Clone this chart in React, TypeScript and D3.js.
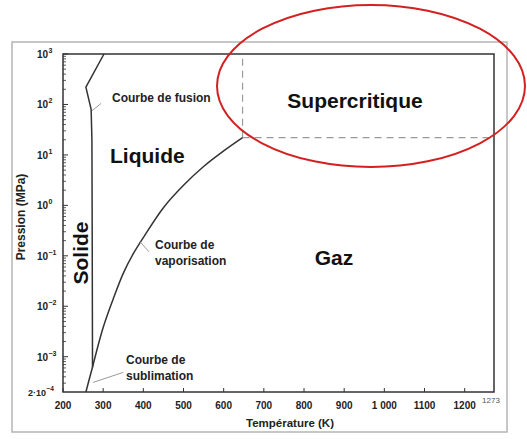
import * as d3 from "d3";

// courbes du diagramme de phase de l'eau (T en K, P en MPa)
const fusion: [number, number][] = [
  [273.5, 6.1e-4],
  [272.5, 1],
  [272, 20],
  [270, 80],
  [257, 220],
  [302, 1000],
];
const sublimation: [number, number][] = [
  [257, 2e-4],
  [265, 3.5e-4],
  [273.2, 6.1e-4],
];
const vaporisation: [number, number][] = [
  [273.2, 6.1e-4],
  [300, 3.8e-3],
  [325, 0.014],
  [350, 0.045],
  [375, 0.11],
  [400, 0.23],
  [450, 0.9],
  [500, 2.5],
  [550, 5.9],
  [600, 12],
  [647, 22],
];
const critique: [number, number] = [647, 22];

const xTicks = [200, 300, 400, 500, 600, 700, 800, 900, 1000, 1100, 1200];
const xTickLabels = ["200", "300", "400", "500", "600", "700", "800", "900", "1 000", "1100", "1200"];
const yTicks = [1e-3, 1e-2, 1e-1, 1, 10, 100, 1000];
const yExponents = ["−3", "−2", "−1", "0", "1", "2", "3"];

const W = 527;
const H = 439;
const left = 63, right = 494, top = 54, bottom = 392;
const font = "'Liberation Sans', Arial, sans-serif";

export default function App() {
  const x = d3.scaleLinear().domain([200, 1273]).range([left, right]);
  const y = d3.scaleLog().domain([2e-4, 1000]).range([bottom, top]);

  const line = d3
    .line<[number, number]>()
    .x((d) => x(d[0]))
    .y((d) => y(d[1]));
  const smooth = d3
    .line<[number, number]>()
    .x((d) => x(d[0]))
    .y((d) => y(d[1]))
    .curve(d3.curveCatmullRom.alpha(0.5));

  // graduations mineures log
  const minors: number[] = [];
  for (let e = -4; e < 3; e++) {
    for (let k = 2; k <= 9; k++) {
      const v = k * Math.pow(10, e);
      if (v > 2e-4 && v < 1000) minors.push(v);
    }
  }

  const lineColor = "#333";
  const leader = "#9a9a9a";

  return (
    <svg
      width={W}
      height={H}
      style={{ position: "absolute", left: 0, top: 0, background: "#fff" }}
      fontFamily={font}
    >
      {/* cadre extérieur */}
      <rect x={12} y={42} width={495} height={390} fill="none" stroke="#b5b5b5" strokeWidth={1.5} />

      {/* pointillés du point critique */}
      <line x1={x(critique[0])} x2={x(critique[0])} y1={y(critique[1])} y2={top} stroke="#9a9a9a" strokeWidth={1.2} strokeDasharray="7,5" />
      <line x1={x(critique[0])} x2={right} y1={y(critique[1])} y2={y(critique[1])} stroke="#9a9a9a" strokeWidth={1.2} strokeDasharray="7,5" />

      {/* courbes */}
      <path d={line(fusion) ?? ""} fill="none" stroke={lineColor} strokeWidth={1.5} />
      <path d={line(sublimation) ?? ""} fill="none" stroke={lineColor} strokeWidth={1.5} />
      <path d={smooth(vaporisation) ?? ""} fill="none" stroke={lineColor} strokeWidth={1.5} />

      {/* cadre du graphe */}
      <rect x={left} y={top} width={right - left} height={bottom - top} fill="none" stroke={lineColor} strokeWidth={1.5} />

      {/* axe x */}
      {xTicks.map((t, i) => (
        <g key={t}>
          <line x1={x(t)} x2={x(t)} y1={bottom} y2={bottom - 4} stroke={lineColor} />
          <text x={x(t)} y={409} textAnchor="middle" fontSize={10} fontWeight="bold" fill="#222">
            {xTickLabels[i]}
          </text>
        </g>
      ))}
      <text x={x(1273) - 3} y={403} textAnchor="middle" fontSize={8} fill="#555">1273</text>
      <text x={290} y={427} textAnchor="middle" fontSize={11.5} fontWeight="bold" fill="#222">
        Température (K)
      </text>

      {/* axe y */}
      {minors.map((v) => (
        <line key={v} x1={left} x2={left + 3} y1={y(v)} y2={y(v)} stroke={lineColor} strokeWidth={0.8} />
      ))}
      {yTicks.map((t, i) => (
        <g key={t}>
          <line x1={left} x2={left + 5} y1={y(t)} y2={y(t)} stroke={lineColor} />
          <text x={48} y={y(t) + 4} textAnchor="end" fontSize={10} fontWeight="bold" fill="#222">
            10
          </text>
          <text x={48.5} y={y(t) - 1} textAnchor="start" fontSize={7} fontWeight="bold" fill="#222">
            {yExponents[i]}
          </text>
        </g>
      ))}
      <text x={46} y={bottom + 4} textAnchor="end" fontSize={9} fontWeight="bold" fill="#222">
        2·10
      </text>
      <text x={46.5} y={bottom - 1} textAnchor="start" fontSize={6.5} fontWeight="bold" fill="#222">
        −4
      </text>
      <text transform={`translate(25,217) rotate(-90)`} textAnchor="middle" fontSize={12} fontWeight="bold" fill="#222">
        Pression (MPa)
      </text>

      {/* traits de rappel */}
      <line x1={x(272)} x2={x(295)} y1={y(75)} y2={y(105)} stroke={leader} strokeWidth={1} />
      <line x1={x(392)} x2={x(414)} y1={y(0.19)} y2={y(0.12)} stroke={leader} strokeWidth={1} />
      <line x1={x(275)} x2={x(350)} y1={y(3.1e-4)} y2={y(4.9e-4)} stroke={leader} strokeWidth={1} />

      {/* étiquettes */}
      <text x={112} y={102} fontSize={12} fontWeight="bold" fill="#222">Courbe de fusion</text>
      <text x={155} y={249} fontSize={12} fontWeight="bold" fill="#222">Courbe de</text>
      <text x={155} y={265} fontSize={12} fontWeight="bold" fill="#222">vaporisation</text>
      <text x={126} y={364} fontSize={12} fontWeight="bold" fill="#222">Courbe de</text>
      <text x={126} y={380} fontSize={12} fontWeight="bold" fill="#222">sublimation</text>

      <text x={110} y={163} fontSize={21} fontWeight="bold" fill="#111">Liquide</text>
      <text x={334} y={265} fontSize={21} fontWeight="bold" fill="#111" textAnchor="middle">Gaz</text>
      <text x={355} y={108} fontSize={21} fontWeight="bold" fill="#111" textAnchor="middle">Supercritique</text>
      <text transform={`translate(88,253) rotate(-90)`} textAnchor="middle" fontSize={21} fontWeight="bold" fill="#111">
        Solide
      </text>

      {/* ellipse rouge */}
      <ellipse cx={371} cy={86} rx={154} ry={81} fill="none" stroke="#d42020" strokeWidth={2} />
    </svg>
  );
}
